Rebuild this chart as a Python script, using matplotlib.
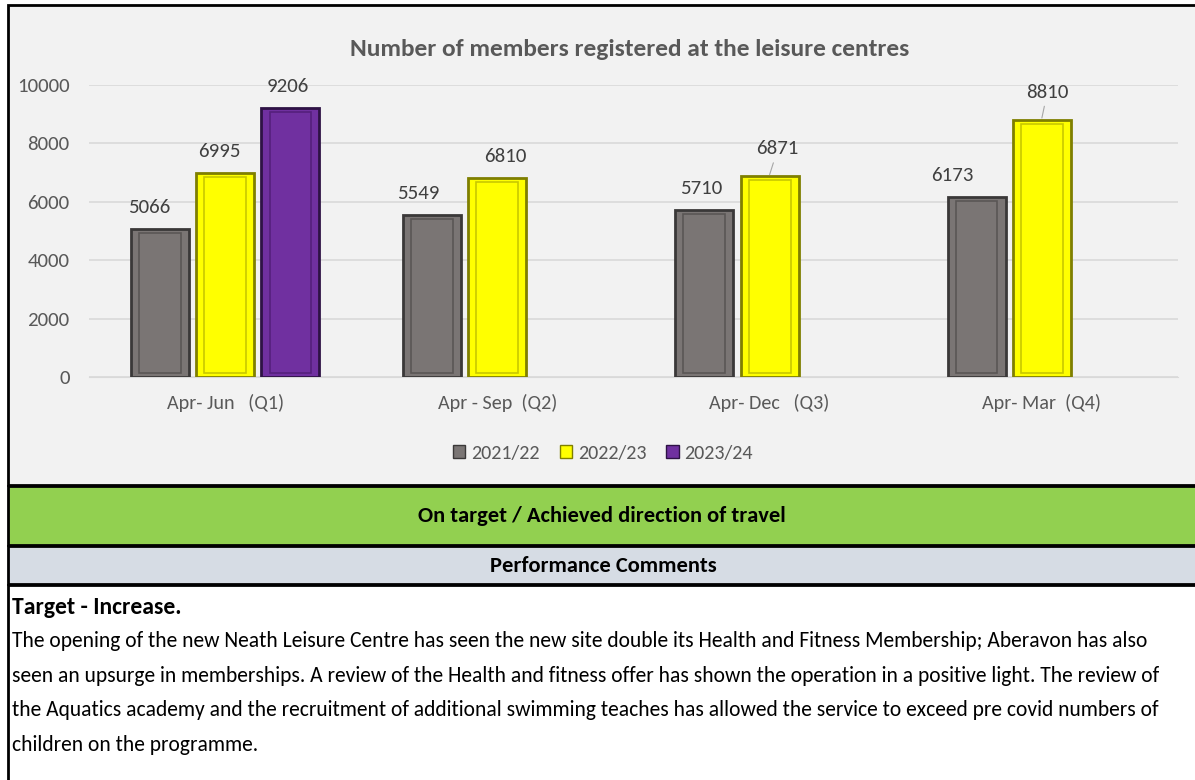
import matplotlib.pyplot as plt
import numpy as np
from matplotlib.patches import Rectangle, Patch

# data
quarters = ["Apr- Jun   (Q1)", "Apr - Sep  (Q2)", "Apr- Dec   (Q3)", "Apr- Mar  (Q4)"]
years = ["2021/22", "2022/23", "2023/24"]
members_2122 = [5066, 5549, 5710, 6173]
members_2223 = [6995, 6810, 6871, 8810]
members_2324 = [9206, np.nan, np.nan, np.nan]

title = "Number of members registered at the leisure centres"
status = "On target / Achieved direction of travel"
comments_head = "Performance Comments"
target_line = "Target - Increase."
comment_lines = [
    "The opening of the new Neath Leisure Centre has seen the new site double its Health and Fitness Membership; Aberavon has also",
    "seen an upsurge in memberships. A review of the Health and fitness offer has shown the operation in a positive light. The review of",
    "the Aquatics academy and the recruitment of additional swimming teaches has allowed the service to exceed pre covid numbers of",
    "children on the programme.",
]

# label nudges (x, in category units) as excel placed them
label_dx = [
    [-0.04, -0.05, -0.01, -0.09],
    [-0.02, 0.03, 0.03, 0.02],
    [-0.01, 0, 0, 0],
]

plt.rcParams['font.family'] = ['Carlito', 'PT Sans Narrow', 'DejaVu Sans']

W, H = 1195, 780
fig = plt.figure(figsize=(W / 100, H / 100), dpi=100)
fig.patch.set_facecolor('white')


def fx(px):
    return px / W


def fy(py):
    return 1 - py / H


# background blocks + borders
bg = fig.add_axes([0, 0, 1, 1])
bg.set_xlim(0, W)
bg.set_ylim(H, 0)
bg.axis('off')
bg.add_patch(Rectangle((8, 5), W, 480, facecolor='#f2f2f2', edgecolor='black', lw=2))
bg.add_patch(Rectangle((8, 486), W, 59, facecolor='#92d050', edgecolor='black', lw=2))
bg.add_patch(Rectangle((8, 546), W, 38, facecolor='#d6dce4', edgecolor='black', lw=2))
bg.add_patch(Rectangle((8, 585), W, 200, facecolor='white', edgecolor='black', lw=2))

fig.text(fx(630), fy(50), title, ha='center', va='center', fontsize=18.3,
         fontweight='bold', color='#595959')
fig.text(fx(602), fy(516), status, ha='center', va='center', fontsize=16.2, fontweight='bold')
fig.text(fx(603), fy(566), comments_head, ha='center', va='center', fontsize=16.2, fontweight='bold')
fig.text(fx(12), fy(607), target_line, ha='left', va='center', fontsize=17, fontweight='bold')
for i, line in enumerate(comment_lines):
    fig.text(fx(12), fy(641 + i * 34.7), line, ha='left', va='center', fontsize=15.5)

# chart
ax = fig.add_axes([fx(89), fy(377), fx(1178 - 89), (377 - 85) / H])
ax.set_facecolor('#f2f2f2')
x = np.arange(len(quarters))
w = 0.213
off = 0.24
series = [
    (members_2122, '#7a7574', '#3a3838', '#5a5655'),
    (members_2223, '#ffff00', '#7f7f00', '#c8c800'),
    (members_2324, '#7030a0', '#2e1245', '#55207d'),
]
for k, (vals, face, edge, inner) in enumerate(series):
    pos = x + (k - 1) * off
    v = np.array(vals, dtype=float)
    ax.bar(pos, v, w, color=face, edgecolor=edge, lw=2, zorder=3)
    ax.bar(pos, v - 260, w * 0.72, bottom=130, color='none', edgecolor=inner, lw=1.2, zorder=4)
    for j, (p, val) in enumerate(zip(pos, v)):
        if np.isnan(val):
            continue
        lx = p + label_dx[k][j]
        if val in (6871, 8810):
            ax.annotate(f"{int(val)}", xy=(p, val + 60), xytext=(lx, val + 650),
                        ha='center', va='bottom', fontsize=15, color='#404040',
                        arrowprops=dict(arrowstyle='-', color='#a6a6a6', lw=0.8,
                                        shrinkA=2, shrinkB=0), zorder=5)
        else:
            ax.text(lx, val + 450, f"{int(val)}", ha='center', va='bottom',
                    fontsize=15, color='#404040', zorder=5)

ax.set_xlim(-0.5, len(quarters) - 0.5)
ax.set_ylim(0, 10000)
ax.set_yticks(range(0, 10001, 2000))
ax.set_xticks(x)
ax.set_xticklabels(quarters)
ax.tick_params(axis='both', length=0, labelsize=15, labelcolor='#595959')
ax.tick_params(axis='x', labelsize=14.5, pad=12)
ax.tick_params(axis='y', pad=14)
ax.grid(axis='y', color='#d9d9d9', lw=1.2, zorder=0)
for s in ['top', 'right', 'left']:
    ax.spines[s].set_visible(False)
ax.spines['bottom'].set_color('#d9d9d9')

handles = [Patch(facecolor=f, edgecolor=e, lw=1) for _, f, e, _ in series]
fig.legend(handles, years, loc='center', bbox_to_anchor=(fx(603), fy(453)), ncol=3,
           frameon=False, fontsize=14.5, labelcolor='#595959', handlelength=0.6,
           handleheight=0.6, handletextpad=0.3, columnspacing=1.0)

fig.savefig('out.png', dpi=100)
